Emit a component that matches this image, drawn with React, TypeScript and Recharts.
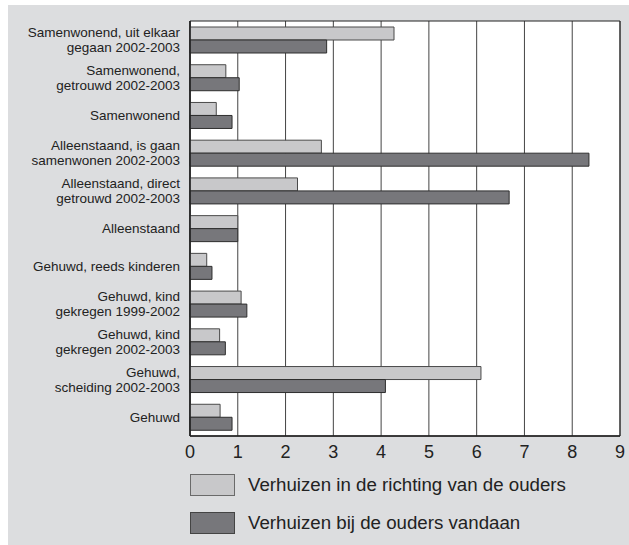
import React from 'react';
import {
  BarChart,
  Bar,
  XAxis,
  YAxis,
  CartesianGrid,
  ReferenceArea,
} from 'recharts';

// Categories (top to bottom), each split into its display lines
const categories: string[][] = [
  ['Samenwonend, uit elkaar', 'gegaan 2002-2003'],
  ['Samenwonend,', 'getrouwd 2002-2003'],
  ['Samenwonend'],
  ['Alleenstaand, is gaan', 'samenwonen 2002-2003'],
  ['Alleenstaand, direct', 'getrouwd 2002-2003'],
  ['Alleenstaand'],
  ['Gehuwd, reeds kinderen'],
  ['Gehuwd, kind', 'gekregen 1999-2002'],
  ['Gehuwd, kind', 'gekregen 2002-2003'],
  ['Gehuwd,', 'scheiding 2002-2003'],
  ['Gehuwd'],
];

const towardParents = [4.27, 0.75, 0.55, 2.75, 2.25, 1.0, 0.35, 1.07, 0.62, 6.09, 0.63];
const awayFromParents = [2.86, 1.03, 0.88, 8.35, 6.68, 1.0, 0.46, 1.19, 0.74, 4.09, 0.88];

const xTicks = [0, 1, 2, 3, 4, 5, 6, 7, 8, 9];

const seriesLabels = [
  'Verhuizen in de richting van de ouders',
  'Verhuizen bij de ouders vandaan',
];

const LIGHT = '#c8c8ca';
const LIGHT_STROKE = '#4a4a4a';
const DARK = '#77777b';
const DARK_STROKE = '#2e2e2e';
const FONT = '"Liberation Sans", Arial, sans-serif';

const data = categories.map((lines, i) => ({
  name: lines.join(' '),
  lines,
  toward: towardParents[i],
  away: awayFromParents[i],
}));

const CategoryTick = ({ x, y, index }: any) => {
  const lines = categories[index] || [];
  const lineHeight = 15;
  const start = -((lines.length - 1) * lineHeight) / 2;
  return (
    <text
      x={x}
      y={y}
      textAnchor="end"
      fill="#222"
      fontSize={13.5}
      fontFamily={FONT}
    >
      {lines.map((line, i) => (
        <tspan key={i} x={x} y={y + start + i * lineHeight} dy="0.36em">
          {line}
        </tspan>
      ))}
    </text>
  );
};

export default function App() {
  return (
    <div
      style={{
        position: 'absolute',
        left: 8,
        top: 5,
        width: 621,
        height: 540,
        background: '#dcdddf',
        fontFamily: FONT,
      }}
    >
      <BarChart
        layout="vertical"
        width={621}
        height={540}
        data={data}
        margin={{ top: 16, right: 9, bottom: 79, left: 0 }}
        barGap={0}
        barSize={13}
      >
        <CartesianGrid
          vertical
          horizontal={false}
          stroke="#444"
          fill="#ffffff"
          fillOpacity={1}
        />
        <XAxis
          type="number"
          domain={[0, 9]}
          ticks={xTicks}
          interval={0}
          height={30}
          tickLine={false}
          tickSize={0}
          tickMargin={9}
          axisLine={{ stroke: '#222', strokeWidth: 1.5 }}
          tick={{ fill: '#222', fontSize: 18, fontFamily: FONT }}
        />
        <YAxis
          type="category"
          dataKey="name"
          width={182}
          interval={0}
          tickLine={false}
          tickSize={0}
          tickMargin={10}
          axisLine={{ stroke: '#222', strokeWidth: 1.5 }}
          tick={<CategoryTick />}
        />
        <ReferenceArea
          x1={0}
          x2={9}
          fill="#fff"
          fillOpacity={0}
          stroke="#222"
          strokeWidth={1}
          ifOverflow="visible"
        />
        <Bar
          dataKey="toward"
          name={seriesLabels[0]}
          fill={LIGHT}
          stroke={LIGHT_STROKE}
          strokeWidth={1}
          isAnimationActive={false}
        />
        <Bar
          dataKey="away"
          name={seriesLabels[1]}
          fill={DARK}
          stroke={DARK_STROKE}
          strokeWidth={1}
          isAnimationActive={false}
        />
      </BarChart>
      {[LIGHT, DARK].map((color, i) => (
        <div
          key={i}
          style={{
            position: 'absolute',
            left: 182,
            top: 469 + i * 38,
            display: 'flex',
            alignItems: 'center',
          }}
        >
          <div
            style={{
              width: 45,
              height: 22,
              background: color,
              border: `1px solid ${i === 0 ? '#6a6a6a' : '#444'}`,
              boxSizing: 'border-box',
            }}
          />
          <span
            style={{
              marginLeft: 13,
              fontSize: 18.7,
              color: '#222',
              whiteSpace: 'nowrap',
              lineHeight: '22px',
            }}
          >
            {seriesLabels[i]}
          </span>
        </div>
      ))}
    </div>
  );
}
